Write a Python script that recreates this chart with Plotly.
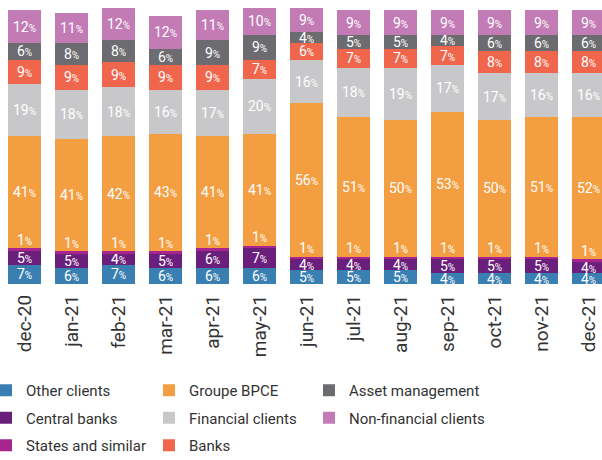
import numpy as np
import plotly.graph_objects as go

months = ["dec-20", "jan-21", "feb-21", "mar-21", "apr-21", "may-21", "jun-21",
          "jul-21", "aug-21", "sep-21", "oct-21", "nov-21", "dec-21"]

# Share of each client type (%), stacked from the bottom up
other_clients = [7, 6, 7, 6, 6, 6, 5, 5, 5, 4, 4, 4, 4]
central_banks = [5, 5, 4, 5, 6, 7, 4, 4, 4, 5, 5, 5, 4]
states_similar = [1, 1, 1, 1, 1, 1, 1, 1, 1, 1, 1, 1, 1]
groupe_bpce = [41, 41, 42, 43, 41, 41, 56, 51, 50, 53, 50, 51, 52]
financial_clients = [19, 18, 18, 16, 17, 20, 16, 18, 19, 17, 17, 16, 16]
banks = [9, 9, 9, 9, 9, 7, 6, 7, 7, 7, 8, 8, 8]
asset_management = [6, 8, 8, 6, 9, 9, 4, 5, 5, 4, 6, 6, 6]
non_financial = [12, 11, 12, 12, 11, 10, 9, 9, 9, 9, 9, 9, 9]

# (name, values, colour, legend column)
series = [
    ("Other clients", other_clients, "#3a7fb1", "legend"),
    ("Central banks", central_banks, "#6b1f7d", "legend"),
    ("States and similar", states_similar, "#a8248f", "legend"),
    ("Groupe BPCE", groupe_bpce, "#f49e42", "legend2"),
    ("Financial clients", financial_clients, "#c8c8ca", "legend2"),
    ("Banks", banks, "#f0664d", "legend2"),
    ("Asset management", asset_management, "#6c6c70", "legend3"),
    ("Non-financial clients", non_financial, "#c27bb5", "legend3"),
]

FONT = "Roboto"
pct = "<span style='font-size:10px'>%</span>"

fig = go.Figure()
for name, vals, color, leg in series:
    small = name == "States and similar"
    fig.add_trace(go.Bar(
        x=months, y=vals, name=name, marker_color=color, marker_line_width=0,
        legend=leg, legendgroup=name,
        texttemplate="" if small else "%{y}" + pct,
        textposition="inside", insidetextanchor="middle",
        constraintext="none", textangle=0,
        textfont=dict(family=FONT, size=14, color="white"),
        hoverinfo="skip",
    ))

# the thin "States and similar" slice gets its label just above the slice
base = np.array(other_clients) + np.array(central_banks) + np.array(states_similar)
fig.add_trace(go.Scatter(
    x=months, y=base, mode="text", text=states_similar,
    texttemplate="%{text}" + pct, textposition="top center",
    textfont=dict(family=FONT, size=14, color="white"),
    showlegend=False, hoverinfo="skip", cliponaxis=False,
))

W, H = 602, 460
PLOT_BOTTOM = 284  # px from the top of the page
leg_style = dict(orientation="v", xanchor="left",
                 y=-(374 - PLOT_BOTTOM) / PLOT_BOTTOM, yanchor="top",
                 font=dict(family=FONT, size=15, color="#333333"),
                 traceorder="grouped", tracegroupgap=5, indentation=-11,
                 bgcolor="rgba(0,0,0,0)")

fig.update_layout(
    width=W, height=H, autosize=False,
    margin=dict(l=0, r=0, t=0, b=H - PLOT_BOTTOM, autoexpand=False),
    barmode="stack", bargap=0.298,
    plot_bgcolor="white", paper_bgcolor="white",
    font=dict(family=FONT, color="#333333"),
    xaxis=dict(type="category", range=[-0.521, 12.287], tickangle=-90,
               tickfont=dict(family=FONT, size=19, color="#333333"),
               ticklabelstandoff=6,
               showgrid=False, showline=False, ticks="", fixedrange=True),
    yaxis=dict(range=[0, 103.8], visible=False, fixedrange=True),
    legend=dict(x=-3 / W, **leg_style),
    legend2=dict(x=160 / W, **leg_style),
    legend3=dict(x=320 / W, **leg_style),
    showlegend=True,
)

fig.write_html("out.html")
